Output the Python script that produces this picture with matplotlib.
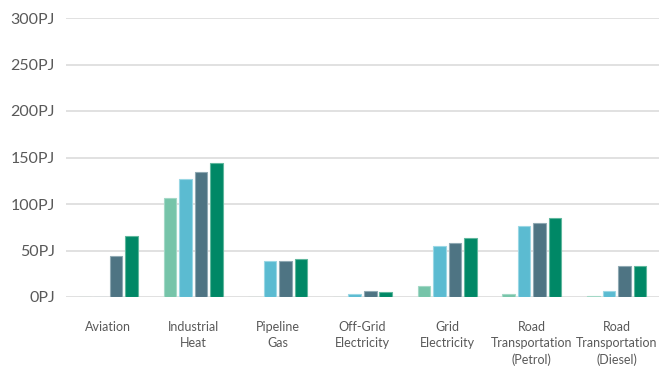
import matplotlib
matplotlib.use("Agg")
import matplotlib.pyplot as plt
import numpy as np

plt.rcParams['font.family'] = ['Lato', 'DejaVu Sans']

categories = ["Aviation", "Industrial\nHeat", "Pipeline\nGas", "Off-Grid\nElectricity",
              "Grid\nElectricity", "Road\nTransportation\n(Petrol)", "Road\nTransportation\n(Diesel)"]
series_a = [0, 106, 0, 0, 11.8, 2.9, 1.3]
series_b = [0, 126.5, 38.7, 3.2, 54.8, 76.3, 6.8]
series_c = [44, 134, 38.7, 6.5, 58.4, 79.6, 33.3]
series_d = [65.5, 144.5, 40.5, 5.0, 63.4, 85.0, 33.3]
y_ticks = [0, 50, 100, 150, 200, 250, 300]
y_tick_labels = [f"{v}PJ" for v in y_ticks]

colors = ["#76C4A9", "#5BBBD1", "#4E7483", "#008866"]
edge_colors = ["#A3D8C6", "#9AD7E4", "#8FA9B3", "#5FB79D"]

fig = plt.figure(figsize=(6.59, 3.66), dpi=100)
ax = fig.add_axes([66 / 659, 1 - 297 / 366, 1 - 66 / 659, (297 - 18) / 366])

x = np.arange(len(categories))
step = 0.183
width = 0.148
all_series = [series_a, series_b, series_c, series_d]
for i, vals in enumerate(all_series):
    offs = (i - 1.5) * step
    ax.bar(x + offs, vals, width=width, color=colors[i], edgecolor=edge_colors[i],
           linewidth=0.8, zorder=3)

ax.set_xlim(-0.5, len(categories) - 0.5)
ax.set_ylim(0, 300)
ax.set_yticks(y_ticks)
ax.set_yticklabels(y_tick_labels, fontsize=11.5, color="#595959")
ax.set_xticks(x)
ax.set_xticklabels(categories, fontsize=9, color="#595959", linespacing=1.42, va="top")
ax.tick_params(axis="y", length=0, pad=8)
ax.tick_params(axis="x", length=0, pad=17)
ax.grid(axis="y", color="#DCDCDC", linewidth=1.2, zorder=0)
for s in ax.spines.values():
    s.set_visible(False)

fig.savefig("out.png", dpi=100)
